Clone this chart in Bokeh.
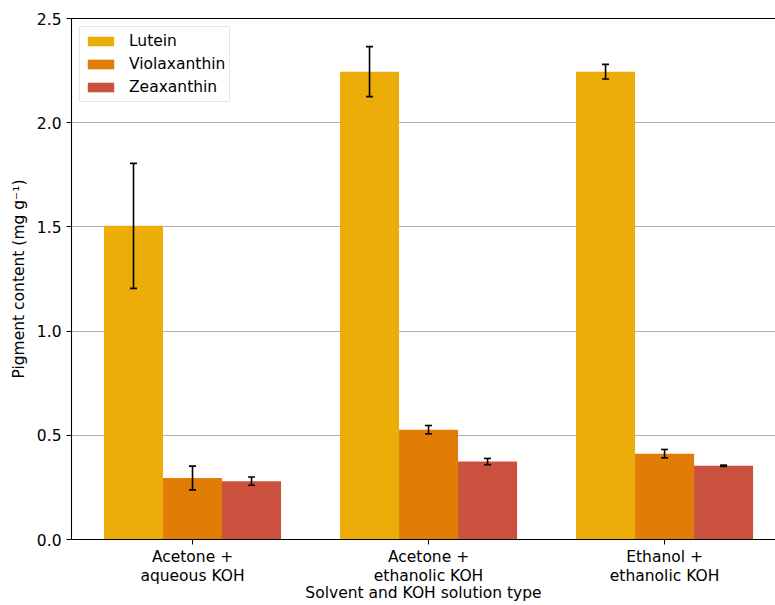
from bokeh.plotting import figure
from bokeh.models import (ColumnDataSource, Range1d, FixedTicker, NumeralTickFormatter,
                          LinearAxis, Legend, LegendItem, Whisker, TeeHead)
from bokeh.embed import file_html
from bokeh.resources import INLINE

# ---- data ----
categories = ["Acetone +\naqueous KOH", "Acetone +\nethanolic KOH", "Ethanol +\nethanolic KOH"]
pigments = ["Lutein", "Violaxanthin", "Zeaxanthin"]
lutein = [1.505, 2.245, 2.245]
lutein_err = [0.30, 0.12, 0.035]
violaxanthin = [0.295, 0.527, 0.412]
violaxanthin_err = [0.057, 0.02, 0.02]
zeaxanthin = [0.280, 0.374, 0.354]
zeaxanthin_err = [0.02, 0.015, 0.003]
colors = ["#EDAD08", "#E17C05", "#CC503E"]
y_ticks = [0.0, 0.5, 1.0, 1.5, 2.0, 2.5]
x_title = "Solvent and KOH solution type"
y_title = "Pigment content (mg g\u207b\u00b9)"

FONT = "DejaVu Sans"
FS = "15.5px"
bar_w = 0.25
offsets = [-bar_w, 0.0, bar_w]

p = figure(width=775, height=605, output_backend="svg", toolbar_location=None,
           x_range=Range1d(-0.5127, 2.470), y_range=Range1d(0, 2.5),
           min_border_left=71, min_border_right=0, min_border_top=18, min_border_bottom=65)
p.outline_line_color = None
p.xgrid.visible = False
p.ygrid.grid_line_color = "#b0b0b0"
p.ygrid.grid_line_width = 1
p.ygrid.ticker = FixedTicker(ticks=y_ticks)

series = [lutein, violaxanthin, zeaxanthin]
errs = [lutein_err, violaxanthin_err, zeaxanthin_err]
items = []
for name, vals, err, col, off in zip(pigments, series, errs, colors, offsets):
    xs = [i + off for i in range(len(categories))]
    src = ColumnDataSource(dict(x=xs, top=vals,
                                upper=[v + e for v, e in zip(vals, err)],
                                lower=[v - e for v, e in zip(vals, err)]))
    r = p.vbar(x="x", top="top", width=bar_w, bottom=0, source=src,
               fill_color=col, line_color=None)
    items.append(LegendItem(label=name, renderers=[r]))
    w = Whisker(base="x", upper="upper", lower="lower", source=src,
                line_color="black", line_width=1.6,
                upper_head=TeeHead(size=7, line_color="black", line_width=1.6),
                lower_head=TeeHead(size=7, line_color="black", line_width=1.6),
                level="overlay")
    p.add_layout(w)

# axes
xa = p.xaxis[0]
xa.ticker = FixedTicker(ticks=list(range(len(categories))))
xa.major_label_overrides = {i: c for i, c in enumerate(categories)}
xa.axis_label = x_title
ya = p.yaxis[0]
ya.ticker = FixedTicker(ticks=y_ticks)
ya.formatter = NumeralTickFormatter(format="0.0")
ya.axis_label = y_title
for ax in (xa, ya):
    ax.minor_tick_line_color = None
    ax.major_tick_out = 5
    ax.major_tick_in = 0
    ax.major_tick_line_color = "black"
    ax.axis_line_color = "black"
    ax.axis_line_width = 1.1
    ax.major_label_text_font = FONT
    ax.major_label_text_font_size = FS
    ax.major_label_text_color = "black"
    ax.axis_label_text_font = FONT
    ax.axis_label_text_font_size = FS
    ax.axis_label_text_font_style = "normal"
    ax.axis_label_text_color = "black"
xa.major_label_standoff = 3
xa.major_label_text_line_height = 1.1
xa.axis_label_standoff = -4
ya.major_label_standoff = 5
ya.axis_label_standoff = 6

top_axis = LinearAxis(ticker=FixedTicker(ticks=[]), axis_line_color="black", axis_line_width=1.1,
                      major_tick_line_color=None, minor_tick_line_color=None)
p.add_layout(top_axis, "above")

legend = Legend(items=items, location="top_left", margin=8, padding=4, spacing=3,
                label_text_font=FONT, label_text_font_size=FS, label_standoff=12,
                label_text_color="black",
                glyph_width=33, glyph_height=12, label_height=20,
                border_line_color="#cccccc", border_line_width=1,
                background_fill_alpha=0.8)
p.add_layout(legend, "center")

open("out.html", "w").write(file_html(p, INLINE))
